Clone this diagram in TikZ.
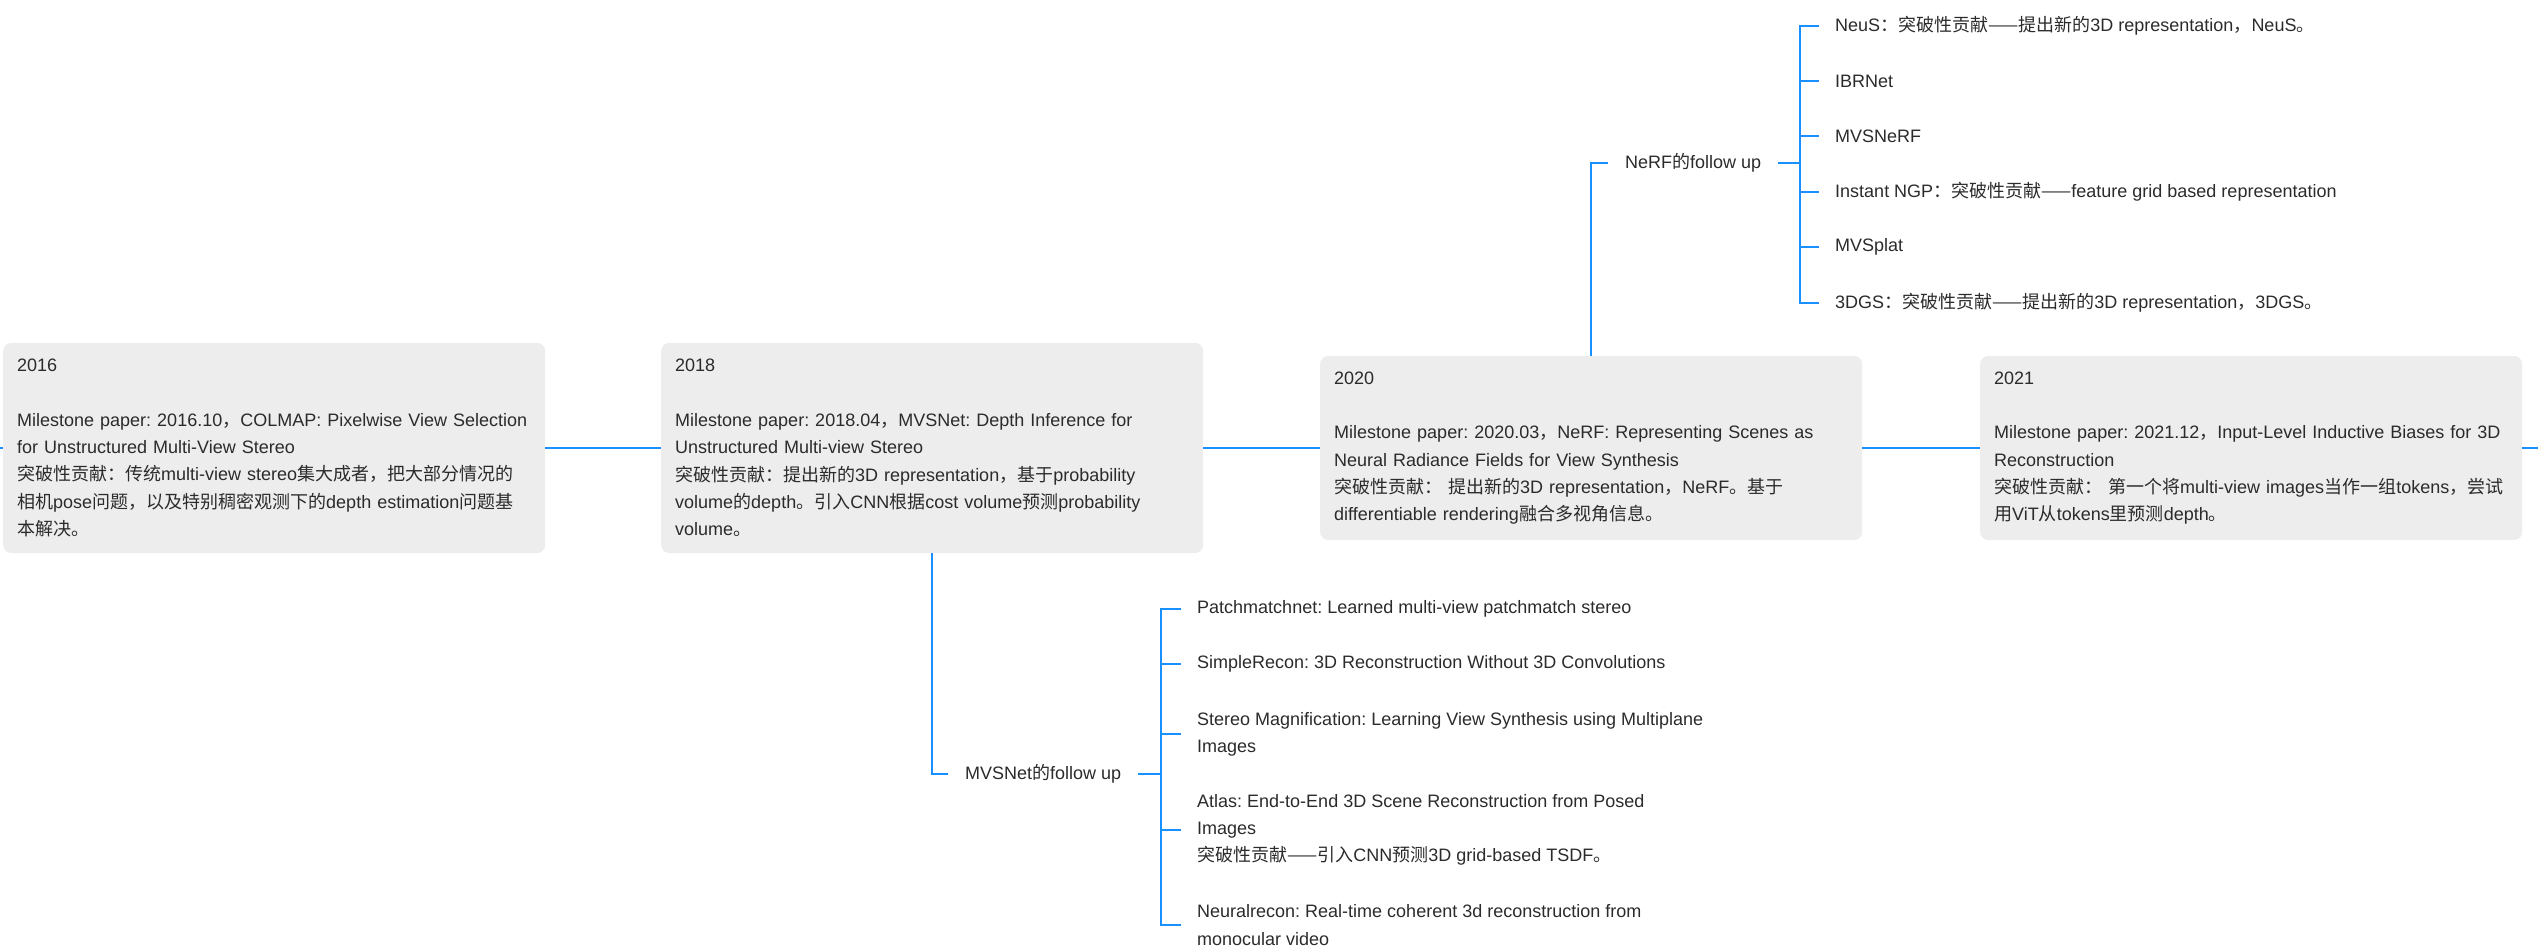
\documentclass[tikz,border=0pt]{standalone}
\usepackage{fontspec}
\usepackage{xcolor}
\setmainfont{Liberation Sans}
\newfontfamily\cjkfont{Noto Sans CJK SC}

\definecolor{lineblue}{RGB}{24,144,255}
\definecolor{boxgray}{RGB}{237,237,237}
\definecolor{txtgray}{RGB}{43,43,43}

% switch to the CJK font for Chinese characters
\XeTeXinterchartokenstate=1
\newXeTeXintercharclass\cjkclass
\newcount\cjkcnt
\def\setcjkrange#1#2{\cjkcnt=#1\relax
  \loop\XeTeXcharclass\cjkcnt=\cjkclass\relax
  \advance\cjkcnt by 1\relax\ifnum\cjkcnt<#2\relax\repeat}
\setcjkrange{"3000}{"3040}
\setcjkrange{"4E00}{"A000}
\setcjkrange{"FF00}{"FFF0}
\XeTeXcharclass"2014=\cjkclass
\XeTeXinterchartoks 0 \cjkclass = {\cjkfont}
\XeTeXinterchartoks 4095 \cjkclass = {\cjkfont}
\XeTeXinterchartoks \cjkclass 0 = {\rmfamily}
\XeTeXinterchartoks \cjkclass 4095 = {\rmfamily}
\frenchspacing

\begin{document}
\begin{tikzpicture}
[
	x=1pt, y=-1pt,
	every node/.style={font=\fontsize{18pt}{27.3pt}\selectfont\frenchspacing, text=txtgray},
	tline/.style={line width=2pt, color=lineblue},
	yearBox/.style={fill=boxgray, rounded corners=8pt, anchor=west, align=left, text width=514pt, inner xsep=14pt, inner ysep=0pt, minimum height=210pt},
	followNode/.style={anchor=west, inner xsep=17pt, inner ysep=0pt},
	leafNode/.style={anchor=west, align=left, inner xsep=16pt, inner ysep=0pt}
]

\useasboundingbox (0,0) rectangle (2538,950);

% Year boxes
\node[yearBox] (y2016) at (3,448) {2016\\[27.3pt]
	Milestone paper: 2016.10，COLMAP: Pixelwise View Selection\\
	for Unstructured Multi-View Stereo\\
	突破性贡献：传统multi-view stereo集大成者，把大部分情况的\\
	相机pose问题，以及特别稠密观测下的depth estimation问题基\\
	本解决。};
\node[yearBox] (y2018) at (661,448) {2018\\[27.3pt]
	Milestone paper: 2018.04，MVSNet: Depth Inference for\\
	Unstructured Multi-view Stereo\\
	突破性贡献：提出新的3D representation，基于probability\\
	volume的depth。引入CNN根据cost volume预测probability\\
	volume。};
\node[yearBox, minimum height=184pt] (y2020) at (1320,448) {2020\\[27.3pt]
	Milestone paper: 2020.03，NeRF: Representing Scenes as\\
	Neural Radiance Fields for View Synthesis\\
	突破性贡献： 提出新的3D representation，NeRF。基于\\
	differentiable rendering融合多视角信息。};
\node[yearBox, minimum height=184pt] (y2021) at (1980,448) {2021\\[27.3pt]
	Milestone paper: 2021.12，Input-Level Inductive Biases for 3D\\
	Reconstruction\\
	突破性贡献： 第一个将multi-view images当作一组tokens，尝试\\
	用ViT从tokens里预测depth。};

% Draw timeline
\coordinate (tlStart) at (0,448);
\coordinate (tlEnd) at (2538,448);
\draw[tline] (tlStart) -- (y2016) (y2016) -- (y2018) (y2018) -- (y2020)
	(y2020) -- (y2021) (y2021) -- (tlEnd);

% NeRF follow up
\node[followNode] (nerfFu) at (1608,163) {NeRF的follow up};
\coordinate (nerfJoin) at (1800,163);
\node[leafNode] (neus) at (1819,26) {NeuS：突破性贡献——提出新的3D representation，NeuS。};
\node[leafNode] (ibrnet) at (1819,81) {IBRNet};
\node[leafNode] (mvsnerf) at (1819,136) {MVSNeRF};
\node[leafNode] (ingp) at (1819,192) {Instant NGP：突破性贡献——feature grid based representation};
\node[leafNode] (mvsplat) at (1819,247) {MVSplat};
\node[leafNode] (gs) at (1819,303) {3DGS：突破性贡献——提出新的3D representation，3DGS。};

\draw[tline] (y2020.north) |- (nerfFu.west);
\draw[tline] (nerfFu.east) -- (nerfJoin);
\foreach \n in {neus,ibrnet,mvsnerf,ingp,mvsplat,gs}
	\draw[tline] (nerfJoin) |- (\n.west);

% MVSNet follow up
\node[followNode] (mvsFu) at (948,774) {MVSNet的follow up};
\coordinate (mvsJoin) at (1161,774);
\node[leafNode] (patch) at (1181,609) {Patchmatchnet: Learned multi-view patchmatch stereo};
\node[leafNode] (simple) at (1181,664) {SimpleRecon: 3D Reconstruction Without 3D Convolutions};
\node[leafNode] (stereo) at (1181,734) {Stereo Magnification: Learning View Synthesis using Multiplane\\Images};
\node[leafNode] (atlas) at (1181,830) {Atlas: End-to-End 3D Scene Reconstruction from Posed\\Images\\突破性贡献——引入CNN预测3D grid-based TSDF。};
\node[leafNode] (neural) at (1181,925) {Neuralrecon: Real-time coherent 3d reconstruction from\\monocular video};

\draw[tline] (y2018.south) |- (mvsFu.west);
\draw[tline] (mvsFu.east) -- (mvsJoin);
\foreach \n in {patch,simple,stereo,atlas,neural}
	\draw[tline] (mvsJoin) |- (\n.west);

\end{tikzpicture}
\end{document}
